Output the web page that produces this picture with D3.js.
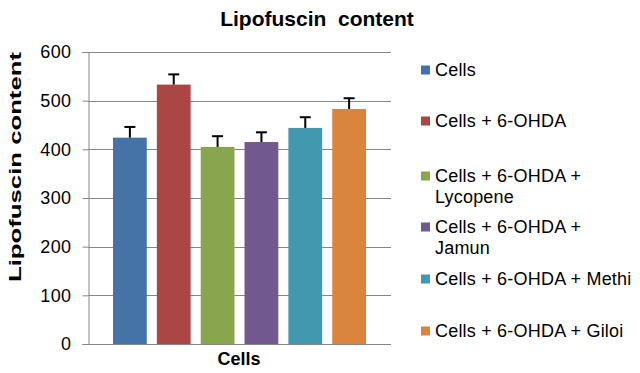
<!DOCTYPE html>
<html>
<head>
<meta charset="utf-8">
<script src="https://cdn.jsdelivr.net/npm/d3@7"></script>
<style>
  body { margin: 0; background: #fff; }
  text { font-family: "Liberation Sans", Arial, sans-serif; fill: #000; }
</style>
</head>
<body>
<div id="chart"></div>
<script>
// data
var groups = ["Cells", "Cells + 6-OHDA", "Cells + 6-OHDA + Lycopene",
              "Cells + 6-OHDA + Jamun", "Cells + 6-OHDA + Methi", "Cells + 6-OHDA + Giloi"];
var values = [424, 533, 405, 415, 444, 483];
var errors = [22, 21, 22, 20, 22, 22];
var legendLines = [["Cells"], ["Cells + 6-OHDA"], ["Cells + 6-OHDA +", "Lycopene"],
                   ["Cells + 6-OHDA +", "Jamun"], ["Cells + 6-OHDA + Methi"], ["Cells + 6-OHDA + Giloi"]];
var colors = ["#4572A7", "#AA4643", "#89A54E", "#71588F", "#4198AF", "#DB843D"];
var yTicks = [0, 100, 200, 300, 400, 500, 600];

var W = 640, H = 373;
var margin = {top: 52, right: 249, bottom: 29, left: 88},
    width = W - margin.left - margin.right,
    height = H - margin.top - margin.bottom;

var svg = d3.select("#chart").append("svg")
    .attr("width", W).attr("height", H);

// title (keeps the double space)
svg.append("text")
    .attr("x", 317).attr("y", 26)
    .attr("text-anchor", "middle")
    .style("white-space", "pre")
    .style("font-size", "21px").style("font-weight", "bold")
    .text("Lipofuscin  content");

var g = svg.append("g")
    .attr("transform", "translate(" + margin.left + "," + margin.top + ")");

var y = d3.scaleLinear().domain([0, 600]).range([height, 0]);

var x = d3.scaleBand().domain(groups).range([25, width - 25]).paddingInner(0.23).paddingOuter(0);

// grid lines
g.selectAll(".grid")
    .data(yTicks.slice(1))
    .enter().append("line")
    .attr("x1", 0).attr("x2", width)
    .attr("y1", function(d){ return Math.round(y(d)) + 0.5 })
    .attr("y2", function(d){ return Math.round(y(d)) + 0.5 })
    .attr("stroke", "#868686").attr("stroke-width", 1);

// y axis
var yAxis = g.append("g")
    .attr("transform", "translate(0.5,0)")
    .call(d3.axisLeft(y).tickValues(yTicks).tickSize(6).tickPadding(11));
yAxis.select(".domain").attr("stroke", "#868686");
yAxis.selectAll(".tick line").attr("stroke", "#868686");
yAxis.selectAll(".tick text")
    .style("font-family", "'Liberation Sans', Arial, sans-serif")
    .style("font-size", "18px").style("letter-spacing", "0.4px")
    .attr("fill", "#000");

// bars
g.selectAll(".bar")
    .data(values)
    .enter().append("rect")
    .attr("x", function(d, i){ return x(groups[i]) })
    .attr("width", x.bandwidth())
    .attr("y", function(d){ return y(d) })
    .attr("height", function(d){ return height - y(d) })
    .attr("fill", function(d, i){ return colors[i] });

// error bars (upper only)
var eb = g.selectAll(".err")
    .data(values)
    .enter().append("g");
eb.append("line")
    .attr("x1", function(d, i){ return x(groups[i]) + x.bandwidth() / 2 })
    .attr("x2", function(d, i){ return x(groups[i]) + x.bandwidth() / 2 })
    .attr("y1", function(d){ return y(d) })
    .attr("y2", function(d, i){ return y(d + errors[i]) })
    .attr("stroke", "#000").attr("stroke-width", 2);
eb.append("line")
    .attr("x1", function(d, i){ return x(groups[i]) + x.bandwidth() / 2 - 5.5 })
    .attr("x2", function(d, i){ return x(groups[i]) + x.bandwidth() / 2 + 5.5 })
    .attr("y1", function(d, i){ return y(d + errors[i]) })
    .attr("y2", function(d, i){ return y(d + errors[i]) })
    .attr("stroke", "#000").attr("stroke-width", 2);

// x axis line
g.append("line")
    .attr("x1", 0).attr("x2", width)
    .attr("y1", height + 0.5).attr("y2", height + 0.5)
    .attr("stroke", "#868686");

// axis titles
svg.append("text")
    .attr("x", 239).attr("y", 365)
    .attr("text-anchor", "middle")
    .style("font-size", "18px").style("font-weight", "bold")
    .text("Cells");

svg.append("text")
    .attr("transform", "translate(21,167) rotate(-90)")
    .attr("text-anchor", "middle")
    .attr("textLength", 230).attr("lengthAdjust", "spacingAndGlyphs")
    .style("font-size", "17px").style("font-weight", "bold")
    .text("Lipofuscin content");

// legend
var legendY = [70, 121, 176, 227, 279, 331];
var lg = svg.selectAll(".legend")
    .data(legendLines)
    .enter().append("g")
    .attr("transform", function(d, i){ return "translate(421," + legendY[i] + ")" });
lg.append("rect")
    .attr("x", 0).attr("y", -4.5)
    .attr("width", 9).attr("height", 9)
    .attr("fill", function(d, i){ return colors[i] });
lg.append("text")
    .attr("y", 6)
    .style("font-size", "18px").style("letter-spacing", "0.2px")
    .selectAll("tspan")
    .data(function(d){ return d })
    .enter().append("tspan")
    .attr("x", 14)
    .attr("dy", function(d, j){ return j === 0 ? 0 : 21 })
    .text(function(d){ return d });
</script>
</body>
</html>
